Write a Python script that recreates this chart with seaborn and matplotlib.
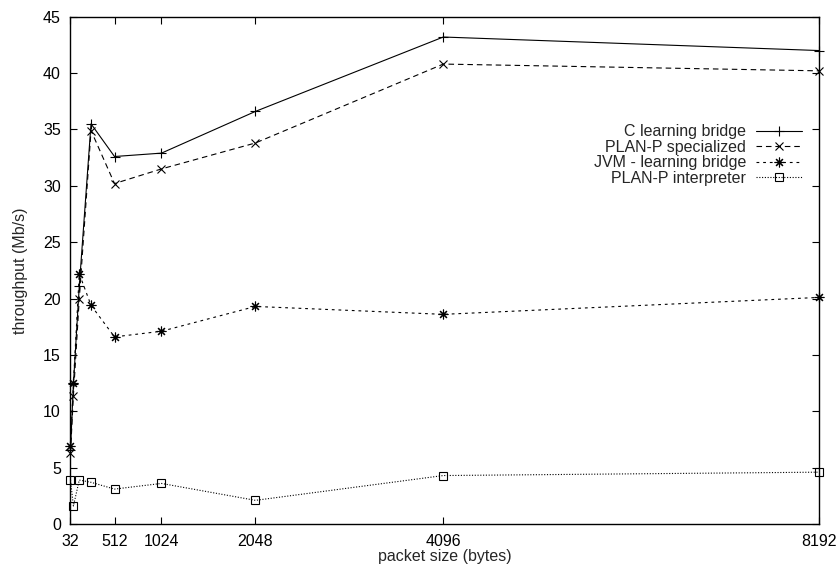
import matplotlib
matplotlib.use('Agg')
import matplotlib.pyplot as plt
import seaborn as sns

sns.set_theme(style="ticks")
plt.rcParams['font.family'] = ['Liberation Sans', 'DejaVu Sans']

# --- dados ---
packet_sizes = [32, 64, 128, 256, 512, 1024, 2048, 4096, 8192]
c_bridge = [6.6, 12.4, 21.1, 35.5, 32.6, 32.9, 36.6, 43.2, 42.0]
planp_spec = [6.3, 11.4, 20.0, 34.9, 30.2, 31.5, 33.8, 40.8, 40.2]
jvm_bridge = [6.9, 12.5, 22.2, 19.4, 16.6, 17.1, 19.3, 18.6, 20.1]
planp_interp = [3.9, 1.6, 3.9, 3.7, 3.1, 3.6, 2.1, 4.3, 4.6]

series_names = ['C learning bridge', 'PLAN-P specialized',
                'JVM - learning bridge', 'PLAN-P interpreter']
series_values = [c_bridge, planp_spec, jvm_bridge, planp_interp]

x_ticks = [32, 512, 1024, 2048, 4096, 8192]
y_ticks = list(range(0, 46, 5))

# estilo de cada curva (tipo gnuplot)
estilos = {
    'C learning bridge': dict(marker='+', linestyle='-', ms=7.5),
    'PLAN-P specialized': dict(marker='x', linestyle=(0, (5, 3.5)), ms=5.5),
    'JVM - learning bridge': dict(marker=(8, 2, 0), linestyle=(0, (2.5, 3.5)), ms=7),
    'PLAN-P interpreter': dict(marker='s', linestyle=(0, (1, 1.5)), ms=6),
}

fig = plt.figure(figsize=(8.36, 5.67), dpi=100)
ax = fig.add_axes([0.0843, 0.0758, 0.8954, 0.8947])

for nome, valores in zip(series_names, series_values):
    sns.lineplot(x=packet_sizes, y=valores, ax=ax, color='black', label=nome,
                 lw=0.8, mec='black', mfc='none', mew=0.8, clip_on=False,
                 errorbar=None, **estilos[nome])

ax.set_xlim(32, 8192)
ax.set_ylim(0, 45)
ax.set_xticks(x_ticks)
ax.set_yticks(y_ticks)
ax.set_xlabel('packet size (bytes)', fontsize=11.5, labelpad=0.5)
ax.set_ylabel('throughput (Mb/s)', fontsize=11.5, labelpad=11)

ax.tick_params(direction='in', length=4.8, width=0.8, top=True, right=True,
               labelsize=11.5, pad=7, color='black', labelcolor='black')
for spine in ax.spines.values():
    spine.set_visible(True)
    spine.set_linewidth(1.0)
    spine.set_color('black')

# legenda à direita, texto alinhado à direita (markerfirst=False)
ax.legend(loc='upper right', bbox_to_anchor=(0.9773, 0.788), frameon=False,
          markerfirst=False, handlelength=2.9, handletextpad=0.6,
          labelspacing=0.03, borderpad=0, borderaxespad=0, numpoints=1,
          fontsize=11.5)

fig.savefig('out.png', dpi=100)
